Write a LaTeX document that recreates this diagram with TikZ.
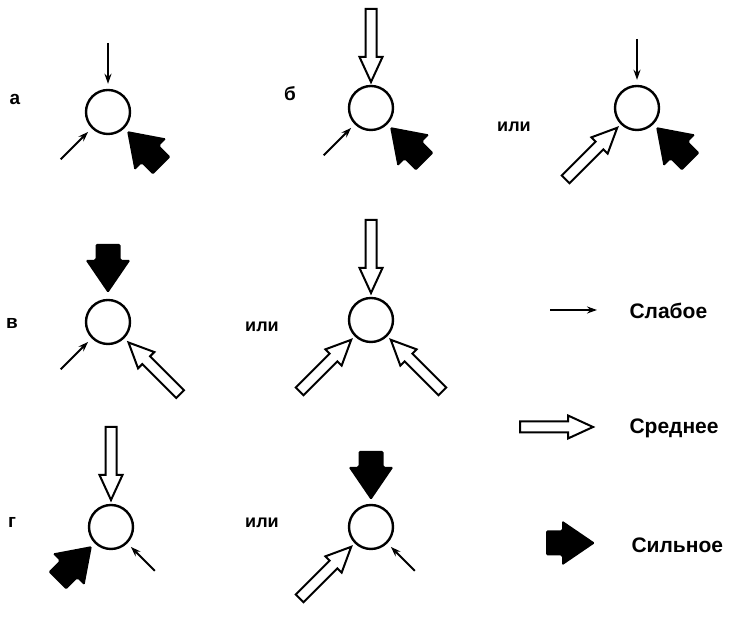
\documentclass[tikz,border=0pt]{standalone}
\usepackage{fontspec}
\setmainfont{Liberation Sans}
\usetikzlibrary{arrows.meta,calc}

\tikzset{
  medarr/.pic={
    \draw[line width=2pt, line join=miter, fill=white]
      (0,0) -- (-25,11.5) -- (-25,5.5) -- (-73,5.5) -- (-73,-5.5)
      -- (-25,-5.5) -- (-25,-11.5) -- cycle;
  },
  strongarr/.pic={
    \fill[black, rounded corners=1.5pt]
      (0,0) -- (-33,22.5) -- (-33,12.5) -- (-49,12.5) -- (-49,-12.5)
      -- (-33,-12.5) -- (-33,-22.5) -- cycle;
  }
}

\begin{document}
\begin{tikzpicture}[x=1pt, y=1pt,
  neuron/.style={circle, draw, line width=2.4pt, minimum size=44pt, inner sep=0pt},
  weak/.style={line width=2pt, -{Stealth[length=10pt,width=7pt]}, shorten >=5pt},
  lbl/.style={font=\bfseries\fontsize{19}{22}\selectfont},
  ili/.style={font=\bfseries\fontsize{18}{21}\selectfont},
  legend/.style={anchor=west, font=\bfseries\fontsize{21}{24}\selectfont}]

\useasboundingbox (0,0) rectangle (747,617);

% Panel a
\node[neuron] (a) at (108,505) {};
\node[lbl] (la) at (15,518) {а};
\coordinate (a-top) at ($(a)+(90:69)$);
\coordinate (a-left) at ($(a)+(225:67)$);
\draw[weak] (a-top) -- (a);
\draw[weak] (a-left) -- (a);
\pic[rotate=135] at ($(a)+(315:27)$) {strongarr};

% Panel b
\node[neuron] (b) at (371,509) {};
\node[lbl] (lb) at (290,523) {б};
\coordinate (b-left) at ($(b)+(225:67)$);
\draw[weak] (b-left) -- (b);
\pic[rotate=-90] at ($(b)+(90:26)$) {medarr};
\pic[rotate=135] at ($(b)+(315:27)$) {strongarr};

% Panel b, second case
\node[ili] (orb) at (514,490) {или};
\node[neuron] (bb) at (637,509) {};
\coordinate (bb-top) at ($(bb)+(90:69)$);
\draw[weak] (bb-top) -- (bb);
\pic[rotate=45] at ($(bb)+(225:28)$) {medarr};
\pic[rotate=135] at ($(bb)+(315:27)$) {strongarr};

% Panel v
\node[neuron] (v) at (108,295) {};
\node[lbl] (lv) at (12,294) {в};
\coordinate (v-left) at ($(v)+(225:67)$);
\draw[weak] (v-left) -- (v);
\pic[rotate=-90] at ($(v)+(90:29)$) {strongarr};
\pic[rotate=135] at ($(v)+(315:29)$) {medarr};

% Panel v, second case
\node[ili] (orv) at (262,290) {или};
\node[neuron] (vv) at (371,297) {};
\pic[rotate=-90] at ($(vv)+(90:27)$) {medarr};
\pic[rotate=45] at ($(vv)+(225:28)$) {medarr};
\pic[rotate=135] at ($(vv)+(315:28)$) {medarr};

% Panel g
\node[neuron] (g) at (111,90) {};
\node[lbl] (lg) at (12,95) {г};
\coordinate (g-right) at ($(g)+(315:62)$);
\draw[weak] (g-right) -- (g);
\pic[rotate=-90] at ($(g)+(90:27)$) {medarr};
\pic[rotate=45] at ($(g)+(225:27)$) {strongarr};

% Panel g, second case
\node[ili] (org) at (262,94) {или};
\node[neuron] (gg) at (371,90) {};
\coordinate (gg-right) at ($(gg)+(315:62)$);
\draw[weak] (gg-right) -- (gg);
\pic[rotate=-90] at ($(gg)+(90:27)$) {strongarr};
\pic[rotate=45] at ($(gg)+(225:28)$) {medarr};

% Legend
\coordinate (w-tail) at (550,307);
\coordinate (w-tip) at (597,307);
\draw[weak, shorten >=0pt] (w-tail) -- (w-tip);
\node[legend] (lw) at (626,306) {Слабое};
\pic at (593,190) {medarr};
\node[legend] (lm) at (626,189) {Среднее};
\pic at (595,74) {strongarr};
\node[legend] (ls) at (628,72) {Сильное};

\end{tikzpicture}
\end{document}
